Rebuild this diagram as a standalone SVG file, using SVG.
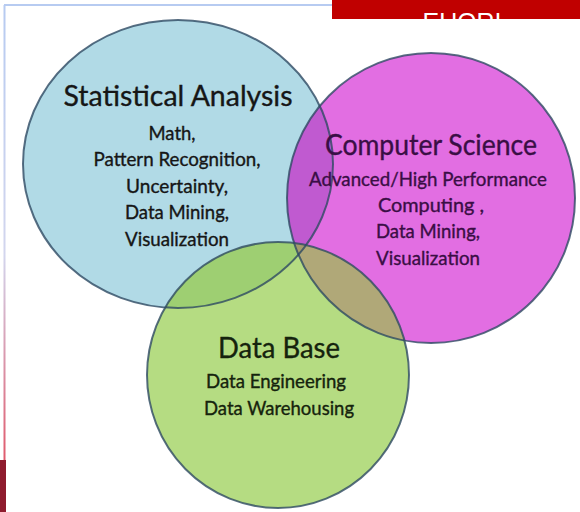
<svg xmlns="http://www.w3.org/2000/svg" xmlns:xlink="http://www.w3.org/1999/xlink" width="580" height="512" viewBox="0 0 580 512">
<style>
.fill-b{fill:#b1dae6}
.fill-m{fill:#e26ee2}
.fill-g{fill:#b5dc82}
.ov-bm{fill:#c05ad0}
.ov-bg{fill:#9ecf72}
.ov-mg{fill:#b0a878}
.ov-bmg{fill:#a39a6c}
.edge{fill:none;stroke:#2e4a63;stroke-opacity:0.8;stroke-width:2}
text{font-family:Lato,"Liberation Sans",sans-serif;text-anchor:middle;stroke-width:0.35}
.title{font-size:28px}
.sub{font-size:18.5px}
.tb{fill:#161616;stroke:#161616}
.tm{fill:#3a0e45;stroke:#3a0e45}
.tg{fill:#15230d;stroke:#15230d}
</style>
<defs>
<ellipse id="eB" cx="178" cy="164" rx="155" ry="144"/>
<ellipse id="eM" cx="431" cy="198" rx="144" ry="145"/>
<ellipse id="eG" cx="278" cy="375" rx="131" ry="133"/>
<clipPath id="cB"><use xlink:href="#eB"/></clipPath>
<clipPath id="cM"><use xlink:href="#eM"/></clipPath>
<clipPath id="cG"><use xlink:href="#eG"/></clipPath>
<clipPath id="cBar"><rect x="332" y="0" width="248" height="19"/></clipPath>
<linearGradient id="frameGrad" gradientUnits="userSpaceOnUse" x1="0" y1="5" x2="0" y2="460">
<stop offset="0" stop-color="#b7cbf1"/>
<stop offset="0.55" stop-color="#d3d6ee"/>
<stop offset="1" stop-color="#e05a6c"/>
</linearGradient>
</defs>
<rect width="580" height="512" fill="#ffffff"/>
<g id="frame">
<rect x="4" y="4" width="328" height="2" fill="#b7cbf1"/>
<rect x="3.5" y="5" width="2" height="455" fill="url(#frameGrad)"/>
<rect x="0" y="460" width="6" height="52" fill="#8e1b2d"/>
<rect x="332" y="0" width="248" height="19" fill="#c00000"/>
<text x="462" y="31" clip-path="url(#cBar)" style="font-family:'Liberation Sans',Arial,sans-serif;font-size:26px;fill:#ffffff;stroke:none" textLength="79" lengthAdjust="spacingAndGlyphs">EUORI</text>
</g>
<g id="statistical-analysis">
<use xlink:href="#eB" class="fill-b"/>
<use xlink:href="#eB" class="edge"/>
<text class="title tb" x="178" y="106" textLength="229" lengthAdjust="spacingAndGlyphs">Statistical Analysis</text>
<text class="sub tb" x="172" y="140" textLength="47" lengthAdjust="spacingAndGlyphs">Math,</text>
<text class="sub tb" x="177" y="166" textLength="167" lengthAdjust="spacingAndGlyphs">Pattern Recognition,</text>
<text class="sub tb" x="177" y="193" textLength="102" lengthAdjust="spacingAndGlyphs">Uncertainty,</text>
<text class="sub tb" x="177" y="219" textLength="104" lengthAdjust="spacingAndGlyphs">Data Mining,</text>
<text class="sub tb" x="177" y="246" textLength="104" lengthAdjust="spacingAndGlyphs">Visualization</text>
</g>
<g id="computer-science">
<use xlink:href="#eM" class="fill-m"/>
<use xlink:href="#eM" class="ov-bm" clip-path="url(#cB)"/>
<use xlink:href="#eB" class="edge" clip-path="url(#cM)"/>
<use xlink:href="#eM" class="edge"/>
<text class="title tm" x="431" y="155" textLength="212" lengthAdjust="spacingAndGlyphs">Computer Science</text>
<text class="sub tm" x="428" y="186" textLength="238" lengthAdjust="spacingAndGlyphs">Advanced/High Performance</text>
<text class="sub tm" x="431" y="212" textLength="106" lengthAdjust="spacingAndGlyphs">Computing ,</text>
<text class="sub tm" x="428" y="238" textLength="104" lengthAdjust="spacingAndGlyphs">Data Mining,</text>
<text class="sub tm" x="428" y="265" textLength="104" lengthAdjust="spacingAndGlyphs">Visualization</text>
</g>
<g id="data-base">
<use xlink:href="#eG" class="fill-g"/>
<use xlink:href="#eG" class="ov-bg" clip-path="url(#cB)"/>
<use xlink:href="#eG" class="ov-mg" clip-path="url(#cM)"/>
<g clip-path="url(#cB)"><use xlink:href="#eG" class="ov-bmg" clip-path="url(#cM)"/></g>
<use xlink:href="#eB" class="edge" clip-path="url(#cG)"/>
<use xlink:href="#eM" class="edge" clip-path="url(#cG)"/>
<use xlink:href="#eG" class="edge"/>
<text class="title tg" x="279" y="358" textLength="122" lengthAdjust="spacingAndGlyphs">Data Base</text>
<text class="sub tg" x="276" y="388" textLength="140" lengthAdjust="spacingAndGlyphs">Data Engineering</text>
<text class="sub tg" x="279" y="415" textLength="150" lengthAdjust="spacingAndGlyphs">Data Warehousing</text>
</g>
</svg>
